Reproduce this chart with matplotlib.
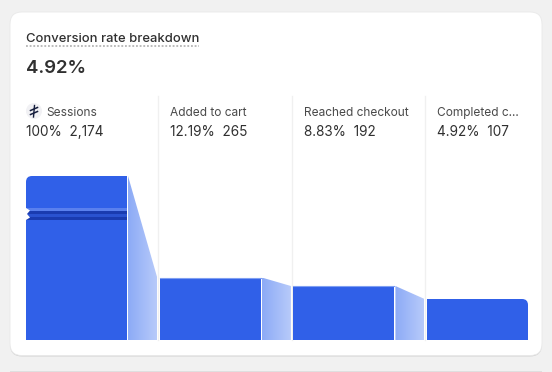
import numpy as np
import matplotlib
matplotlib.use("Agg")
import matplotlib.pyplot as plt
from matplotlib.colors import LinearSegmentedColormap
from matplotlib.patches import FancyBboxPatch, Polygon, Circle, Rectangle

plt.rcParams["font.family"] = ["Inter", "DejaVu Sans"]

title = "Conversion rate breakdown"
headline = "4.92%"
steps = ["Sessions", "Added to cart", "Reached checkout", "Completed c..."]
rates = ["100%", "12.19%", "8.83%", "4.92%"]
counts = [2174, 265, 192, 107]

# the first bar is cut by an axis break, so the y scale is not linear
scale_counts = [0, 107, 192, 265, 2174]
scale_heights = [0, 41, 54, 62.5, 164]

BLUE = "#3060e8"
PX = 0.72  # px to pt at dpi 100


def forward(v):
    return np.interp(v, scale_counts, scale_heights)


def inverse(h):
    return np.interp(h, scale_heights, scale_counts)


fig = plt.figure(figsize=(5.52, 3.72), dpi=100, facecolor="#f1f1f1")

# page layer, in pixels
page = fig.add_axes([0, 0, 1, 1])
page.set_xlim(0, 552)
page.set_ylim(372, 0)
page.axis("off")

page.add_patch(FancyBboxPatch((10, 13.5), 532, 343, boxstyle="round,pad=0,rounding_size=12",
                              fc="#d2d2d2", ec="none"))
page.add_patch(FancyBboxPatch((10, 12), 532, 343.5, boxstyle="round,pad=0,rounding_size=12",
                              fc="white", ec="#e9e9e9", lw=0.6))
page.add_patch(Rectangle((10, 371), 532, 2, fc="#dfdfdf", ec="none"))

page.text(26, 38.5, title, fontsize=13 * PX, fontweight="medium", color="#303030",
          va="center", ha="left")
page.plot([26, 199], [45.5, 45.5], color="#a8a8a8", lw=1.1, ls=(0, (1.2, 1.2)))
page.text(26, 68.5, headline, fontsize=18.5 * PX, fontweight="semibold", color="#303030",
          va="center", ha="left")

for x in [158, 292, 425]:
    page.plot([x, x], [96, 340], color="#f0f0f0", lw=1)

text_x = [46, 170, 303.5, 437]
value_x = [26, 170, 303.5, 437]
for i in range(4):
    page.text(text_x[i], 113, steps[i], fontsize=11.9 * PX, color="#4a4a4a", va="center", ha="left")
    line = f"{rates[i]}  {counts[i]:,}"
    page.text(value_x[i], 132, line, fontsize=13.6 * PX, color="#303030", va="center", ha="left")

# sessions icon
page.add_patch(Circle((34, 111), 8, fc="#f1f1f4", ec="none"))
page.plot([34.5, 33.5], [105.5, 117], color="#141c3c", lw=1)
page.plot([30.5, 37.5], [110.5, 107.5], color="#141c3c", lw=1.1)
page.plot([30.5, 37.5], [114.5, 111.5], color="#141c3c", lw=1.1)

# chart layer
step_w = 133.7
ax = fig.add_axes([0, (372 - 340) / 372, 1, 164 / 372])
ax.patch.set_alpha(0)
ax.set_yscale("function", functions=(forward, inverse))
ax.axis("off")

bar_w = 101 / step_w
pos = np.arange(len(counts))
bars = ax.bar(pos, counts, width=bar_w, align="edge", color=BLUE, lw=0)

# rounded outer corners
first_clip = FancyBboxPatch((26, 176), 120, 220, boxstyle="round,pad=0,rounding_size=6",
                            transform=page.transData, fc="none", ec="none")
page.add_patch(first_clip)
bars[0].set_clip_path(first_clip)
end_clip = FancyBboxPatch((400, 299), 128, 100, boxstyle="round,pad=0,rounding_size=6",
                          transform=page.transData, fc="none", ec="none")
page.add_patch(end_clip)
bars[3].set_clip_path(end_clip)

# light top edge on the middle bars
for i in [1, 2]:
    ax.plot([i, i + bar_w], [counts[i], counts[i]], color="#7f9ff2", lw=0.8, clip_on=False)

# gradient connectors between bars
gradient = np.linspace(0, 1, 64).reshape(1, -1)
cmap = LinearSegmentedColormap.from_list("fade", ["#8dabf6", "#b8cbfa"])
for i in range(3):
    x0 = i + bar_w + 1 / step_w
    x1 = i + 1 - 2.5 / step_w
    im = ax.imshow(gradient, extent=[x0, x1, 0, counts[i]], cmap=cmap, aspect="auto", zorder=2)
    shape = Polygon([(x0, 0), (x0, counts[i]), (x1, counts[i + 1]), (x1, 0)], transform=ax.transData,
                    fc="none", ec="none")
    ax.add_patch(shape)
    im.set_clip_path(shape)
ax.set_xlim(-26 / step_w, 526 / step_w)
ax.set_ylim(0, 2174)

# axis break marks on the first bar
over = fig.add_axes([0, 0, 1, 1])
over.patch.set_alpha(0)
over.set_xlim(0, 552)
over.set_ylim(372, 0)
over.axis("off")
over.add_patch(Rectangle((26, 208), 101, 3, fc="#5a80ee", ec="none"))
over.add_patch(Rectangle((26, 211), 101, 3, fc="#1a3bb0", ec="none"))
over.add_patch(Rectangle((26, 214), 101, 3, fc="#2a52d0", ec="none"))
over.add_patch(Rectangle((26, 217), 101, 3, fc="#1a3bb0", ec="none"))
over.add_patch(Polygon([(26, 208), (30, 210.5), (27, 214), (30, 217.5), (26, 220)], fc="white", ec="none"))

fig.savefig("out.png", dpi=100, facecolor=fig.get_facecolor())
